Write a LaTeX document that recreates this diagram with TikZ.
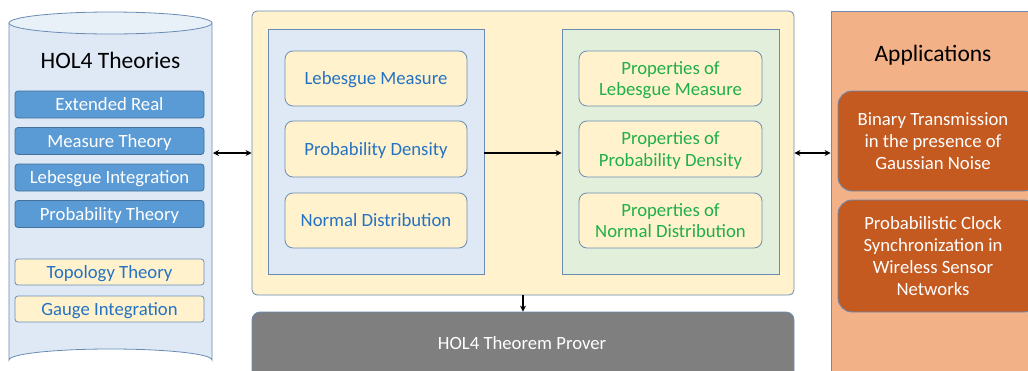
\documentclass[tikz,border=0pt]{standalone}
\usepackage{fontspec}
\setmainfont{Carlito}
\usetikzlibrary{arrows.meta}
\definecolor{edgeblue}{HTML}{6A8CB4}
\definecolor{cylfill}{HTML}{DEE9F5}
\definecolor{bluebox}{HTML}{5B9BD5}
\definecolor{blueboxedge}{HTML}{41719C}
\definecolor{cream}{HTML}{FFF2CC}
\definecolor{bluetext}{HTML}{2472C4}
\definecolor{greentext}{HTML}{1FAF4B}
\definecolor{greenpanel}{HTML}{E2EFDA}
\definecolor{bluepanel}{HTML}{DEE9F5}
\definecolor{grayprover}{HTML}{7F7F7F}
\definecolor{appfill}{HTML}{F2B187}
\definecolor{appbox}{HTML}{C55A21}
\tikzset{
  lbl/.style={font=\fontsize{18.7}{21.8}\selectfont, align=center, inner sep=0pt},
  theorybox/.style={lbl, text depth=0pt, draw=blueboxedge, fill=bluebox, text=white, rounded corners=3pt, line width=0.8pt},
  otherbox/.style={lbl, text depth=0pt, draw=edgeblue, fill=cream, text=bluetext, rounded corners=3pt, line width=0.8pt},
  itembox/.style={lbl, text depth=0pt, draw=edgeblue, fill=cream, rounded corners=8pt, line width=0.8pt},
  appitem/.style={lbl, draw=edgeblue, fill=appbox, text=white, rounded corners=14pt, line width=0.8pt},
  panel/.style={draw=edgeblue, line width=0.8pt},
  conn/.style={line width=1.4pt, -{Stealth[length=6pt,width=6pt]}},
  dconn/.style={line width=1.4pt, {Stealth[length=6pt,width=6pt]}-{Stealth[length=6pt,width=6pt]}},
}
\begin{document}
\begin{tikzpicture}[x=1pt,y=-1pt]
\useasboundingbox (0,0) rectangle (1028,370);
\clip (0,0) rectangle (1028,370);
% cylinder
\fill[cylfill] (9,23) -- (9,360) arc[start angle=180,end angle=360,x radius=101.5,y radius=11] -- (212,23) -- cycle;
\draw[edgeblue, line width=0.8pt] (9,23) -- (9,360) arc[start angle=180,end angle=360,x radius=101.5,y radius=11] -- (212,23);
\draw[edgeblue, fill=cylfill!70!white, line width=0.8pt] (110.5,23) ellipse[x radius=101.5,y radius=11];
\node[lbl, font=\fontsize{23.5}{26}\selectfont] (holt) at (110.5,60) {HOL4 Theories};
\node[theorybox, minimum width=189pt, minimum height=27pt] (er) at (109.5,104.5) {Extended Real};
\node[theorybox, minimum width=189pt, minimum height=27pt] (mt) at (109.5,141) {Measure Theory};
\node[theorybox, minimum width=189pt, minimum height=27pt] (li) at (109.5,177.5) {Lebesgue Integration};
\node[theorybox, minimum width=189pt, minimum height=27pt] (pt) at (109.5,214) {Probability Theory};
\node[otherbox, minimum width=189pt, minimum height=26pt] (tt) at (109.5,272) {Topology Theory};
\node[otherbox, minimum width=189pt, minimum height=26pt] (gi) at (109.5,309) {Gauge Integration};
\coordinate (cylR) at (213,153);
% central box
\node[panel, fill=cream, rounded corners=5pt, minimum width=542pt, minimum height=284pt, inner sep=0pt] (center) at (523,153) {};
\node[panel, fill=bluepanel, minimum width=216pt, minimum height=245pt, inner sep=0pt] (lp) at (376,151.5) {};
\node[panel, fill=greenpanel, minimum width=217pt, minimum height=245pt, inner sep=0pt] (rp) at (670.5,151.5) {};
\node[itembox, text=bluetext, minimum width=182pt, minimum height=55pt] (lm) at (376,78.5) {Lebesgue Measure};
\node[itembox, text=bluetext, minimum width=182pt, minimum height=56pt] (pd) at (376,149) {Probability Density};
\node[itembox, text=bluetext, minimum width=182pt, minimum height=55pt] (nd) at (376,220.5) {Normal Distribution};
\node[itembox, text=greentext, minimum width=183pt, minimum height=55pt] (plm) at (670.5,78.5) {Properties of\\Lebesgue Measure};
\node[itembox, text=greentext, minimum width=183pt, minimum height=56pt] (ppd) at (670.5,149) {Properties of\\Probability Density};
\node[itembox, text=greentext, minimum width=183pt, minimum height=55pt] (pnd) at (670.5,220.5) {Properties of\\Normal Distribution};
% prover
\node[panel, fill=grayprover, rounded corners=8pt, minimum width=542pt, minimum height=80pt, inner sep=0pt] (prover) at (523,352) {};
\node[lbl, text=white] (provert) at (522,343) {HOL4 Theorem Prover};
% applications
\node[panel, fill=appfill, minimum width=220pt, minimum height=380pt, inner sep=0pt] (apps) at (941,201) {};
\node[lbl, font=\fontsize{23.5}{26}\selectfont] (appt) at (933,55) {Applications};
\node[appitem, minimum width=200pt, minimum height=100pt] (bt) at (938,141) {};
\node[lbl, text=white] (btt) at (933,141) {Binary Transmission\\in the presence of\\Gaussian Noise};
\node[appitem, minimum width=200pt, minimum height=112pt] (pc) at (938,256) {};
\node[lbl, text=white] (pct) at (933,256) {Probabilistic Clock\\Synchronization in\\Wireless Sensor\\Networks};
% connectors
\draw[dconn] (cylR) -- (center.west |- cylR);
\draw[conn] (lp.east |- cylR) -- (rp.west |- cylR);
\draw[dconn] (center.east |- cylR) -- (apps.west |- cylR);
\draw[conn] (center.south) -- (prover.north);
\end{tikzpicture}
\end{document}
